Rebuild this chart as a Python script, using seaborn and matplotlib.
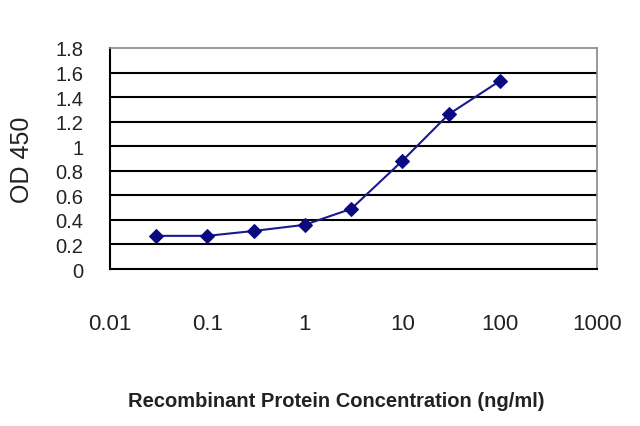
import matplotlib
matplotlib.use("Agg")
import matplotlib.pyplot as plt
import numpy as np
import pandas as pd
import seaborn as sns

# concentration (ng/ml) and OD 450 readings
conc = [0.03, 0.1, 0.3, 1, 3, 10, 30, 100]
od450 = [0.27, 0.27, 0.31, 0.36, 0.49, 0.88, 1.26, 1.53]
x_ticks = [0.01, 0.1, 1, 10, 100, 1000]
x_labels = ["0.01", "0.1", "1", "10", "100", "1000"]
y_ticks = [0, 0.2, 0.4, 0.6, 0.8, 1, 1.2, 1.4, 1.6, 1.8]
y_labels = ["0", "0.2", "0.4", "0.6", "0.8", "1", "1.2", "1.4", "1.6", "1.8"]

df = pd.DataFrame({"conc": conc, "od": od450})

sns.set_style("white")
plt.rcParams["font.family"] = ["Liberation Sans", "DejaVu Sans"]

fig = plt.figure(figsize=(6.4, 4.27), dpi=100)
ax = fig.add_axes([110 / 640, 1 - 270 / 427, 487 / 640, 221 / 427])

sns.lineplot(data=df, x="conc", y="od", ax=ax, color="#1a1a8c", linewidth=1.5,
             marker="D", markersize=7, markerfacecolor="#0a0a80",
             markeredgecolor="#0a0a80")

ax.set_xscale("log")
ax.set_xlim(0.01, 1000)
ax.set_ylim(0, 1.8)
ax.set_xticks(x_ticks)
ax.set_xticklabels(x_labels, fontsize=16)
ax.minorticks_off()
ax.set_yticks(y_ticks)
ax.set_yticklabels(y_labels, fontsize=14.5)
for y in y_ticks[1:-1]:
    ax.axhline(y, color="black", linewidth=1.5, zorder=0)

ax.tick_params(axis="x", direction="in", length=5, width=1, pad=32, colors="black")
ax.tick_params(axis="y", length=0, pad=19)
for lab in ax.get_xticklabels() + ax.get_yticklabels():
    lab.set_color("#222222")
for side in ["left", "bottom"]:
    ax.spines[side].set_color("black")
    ax.spines[side].set_linewidth(1.5)
for side in ["top", "right"]:
    ax.spines[side].set_color("#888888")
    ax.spines[side].set_linewidth(1.2)

ax.set_xlabel("Recombinant Protein Concentration (ng/ml)", fontsize=14.5,
              fontweight="bold", color="#222222")
ax.xaxis.set_label_coords((336 - 110) / 487, -(402 - 270) / 221, transform=ax.transAxes)
ax.xaxis.label.set_verticalalignment("center")
ax.set_ylabel("OD 450", fontsize=18, color="#222222")
ax.yaxis.set_label_coords((22 - 110) / 487, 0.5)
ax.yaxis.label.set_verticalalignment("center")

fig.savefig("out.png", dpi=100)
